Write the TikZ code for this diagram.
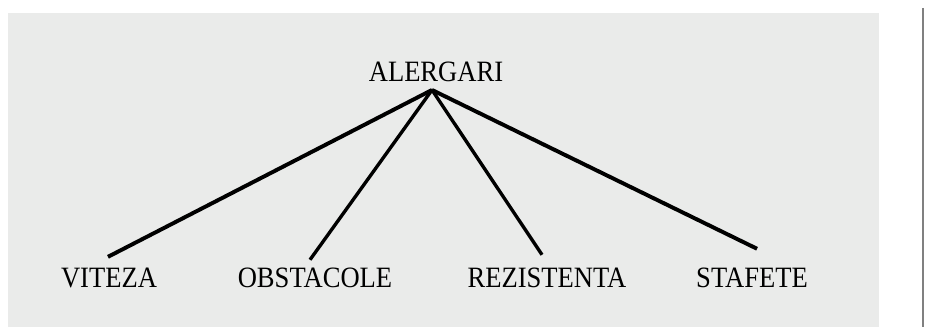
\documentclass[tikz,border=0pt]{standalone}
\usepackage{fontspec}
\setmainfont{Liberation Serif}
\usetikzlibrary{calc}
\definecolor{panelgray}{RGB}{234,235,234}
\definecolor{rulegray}{RGB}{128,128,128}

\begin{document}
\begin{tikzpicture}[x=0.025cm,y=-0.025cm,outer sep=0,font=\fontsize{21}{23}\selectfont]
        \useasboundingbox (0,0) rectangle (925,327);
        % Background Panel
        \fill[panelgray] (8,13) rectangle (879,327);
        \draw[rulegray,line width=1.4pt] (923,8) -- (923,327);
        % Labels
        \node[anchor=base,xscale=0.9] (Alergari)   at (436, 82) {ALERGARI};
        \node[anchor=base,xscale=0.9] (Viteza)     at (109,287) {VITEZA};
        \node[anchor=base,xscale=0.9] (Obstacole)  at (315,287) {OBSTACOLE};
        \node[anchor=base,xscale=0.9] (Rezistenta) at (547,287) {REZISTENTA};
        \node[anchor=base,xscale=0.9] (Stafete)    at (752,287) {STAFETE};
        % Branches
        \coordinate (Apex) at ($(Alergari.south)+(-4,3)$);
        \draw[line width=2.8pt] (Apex) -- ($(Viteza.north)+(-1,-6)$);
        \draw[line width=2.4pt] (Apex) -- ($(Obstacole.north)+(-5,-3)$);
        \draw[line width=2.4pt] (Apex) -- ($(Rezistenta.north)+(-5,-8)$);
        \draw[line width=2.8pt] (Apex) -- ($(Stafete.north)+(5,-14)$);
\end{tikzpicture}
\end{document}
